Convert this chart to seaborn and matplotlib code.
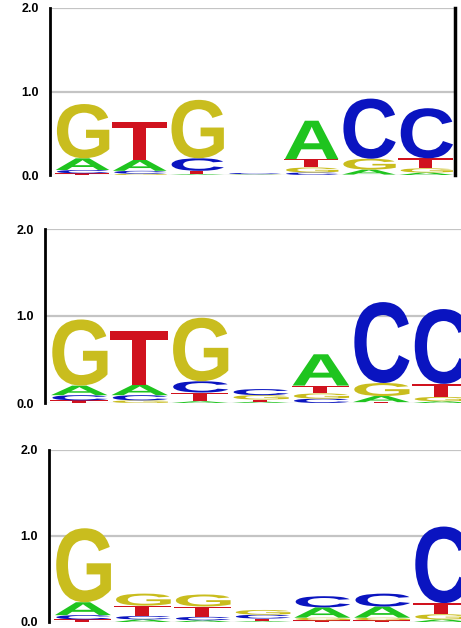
import numpy as np
import pandas as pd
import matplotlib
matplotlib.use("Agg")
import matplotlib.pyplot as plt
import seaborn as sns
from matplotlib.textpath import TextPath
from matplotlib.patches import PathPatch
from matplotlib.font_manager import FontProperties
from matplotlib.transforms import Affine2D

# --- letter heights (bits) per position ---
bases = ["A", "C", "G", "T"]

# panel 1
p1_A = [0.14, 0.13, 0.01, 0.004, 0.46, 0.06, 0.03]
p1_C = [0.04, 0.035, 0.15, 0.014, 0.03, 0.72, 0.60]
p1_G = [0.65, 0.015, 0.70, 0.003, 0.06, 0.13, 0.05]
p1_T = [0.02, 0.45, 0.04, 0.003, 0.10, 0.005, 0.12]

# panel 2
p2_A = [0.11, 0.12, 0.02, 0.015, 0.36, 0.07, 0.02]
p2_C = [0.06, 0.06, 0.13, 0.07, 0.05, 0.93, 0.86]
p2_G = [0.76, 0.03, 0.73, 0.05, 0.06, 0.15, 0.05]
p2_T = [0.03, 0.62, 0.10, 0.025, 0.09, 0.01, 0.15]

# panel 3
p3_A = [0.15, 0.03, 0.02, 0.01, 0.12, 0.13, 0.03]
p3_C = [0.05, 0.04, 0.04, 0.045, 0.13, 0.15, 0.89]
p3_G = [0.86, 0.14, 0.14, 0.055, 0.03, 0.03, 0.06]
p3_T = [0.03, 0.12, 0.12, 0.03, 0.02, 0.02, 0.13]

panels = [(p1_A, p1_C, p1_G, p1_T), (p2_A, p2_C, p2_G, p2_T), (p3_A, p3_C, p3_G, p3_T)]
yticks = [0.0, 1.0, 2.0]
ytick_labels = ["0.0", "1.0", "2.0"]

colors = {"A": "#1fc41f", "C": "#0a14c0", "G": "#c9bd1e", "T": "#d0121e"}

sns.set_style("white")
plt.rcParams["font.family"] = ["Liberation Sans", "DejaVu Sans"]
fp = FontProperties(family="Liberation Sans", weight="bold")

glyphs = {b: TextPath((0, 0), b, size=1, prop=fp) for b in bases}


def draw_letter(ax, letter, x, y, w, h, color):
    path = glyphs[letter]
    v = path.vertices
    x0, y0 = v[:, 0].min(), v[:, 1].min()
    bw, bh = v[:, 0].max() - x0, v[:, 1].max() - y0
    t = Affine2D().translate(-x0, -y0).scale(w / bw, h / bh).translate(x, y)
    ax.add_patch(PathPatch(t.transform_path(path), facecolor=color, edgecolor="none", lw=0))


fig = plt.figure(figsize=(4.61, 6.28), dpi=100)
W, H = 461.0, 628.0
# (left px, right px, top px (2.0), bottom px (0.0))
boxes = [(50, 455, 8, 175), (45, 472, 229, 403), (49, 472, 450, 622)]

for i, (vals, (l, r, t, b)) in enumerate(zip(panels, boxes)):
    ax = fig.add_axes([l / W, 1 - b / H, (r - l) / W, (b - t) / H])
    df = pd.DataFrame(dict(zip(bases, vals)))
    df.index = np.arange(1, len(df) + 1)
    for pos, row in df.iterrows():
        y = 0.0
        for letter, h in row.sort_values().items():
            if h <= 0:
                continue
            draw_letter(ax, letter, pos - 0.485, y, 0.97, h, colors[letter])
            y += h
    ax.set_xlim(0.45, 7.52)
    ax.set_ylim(0, 2.0)
    for g in [1.0, 2.0]:
        ax.axhline(g, color="#c4c4c4", lw=1.6, zorder=0)
    ax.axhline(0.0, color="#dcdcdc", lw=1.0, zorder=0)
    ax.set_yticks(yticks)
    ax.set_yticklabels(ytick_labels, fontsize=9, fontweight="bold")
    ax.set_xticks([])
    ax.tick_params(axis="y", direction="out", length=7, width=1.5, pad=1, colors="black")
    sns.despine(ax=ax, top=True, bottom=True, right=(i != 0), left=False)
    ax.spines["left"].set_linewidth(2.0)
    ax.spines["left"].set_color("black")
    if i == 0:
        ax.spines["right"].set_linewidth(2.5)
        ax.spines["right"].set_color("black")

fig.savefig("out.png", dpi=100, facecolor="white")
